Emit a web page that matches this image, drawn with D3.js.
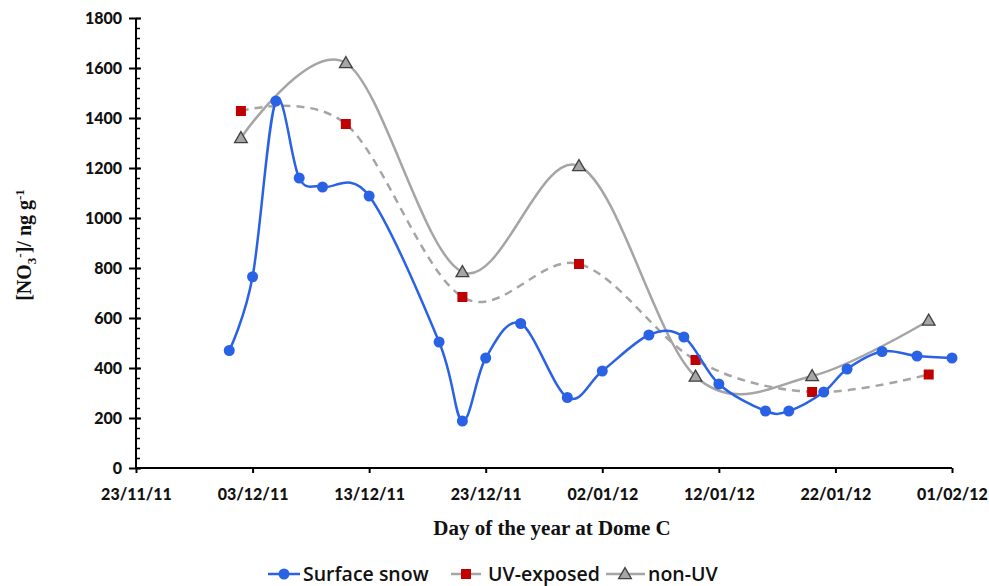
<!DOCTYPE html>
<html>
<head>
<meta charset="utf-8">
<script src="https://cdn.jsdelivr.net/npm/d3@7/dist/d3.min.js"></script>
<style>
  body { margin: 0; background: #fff; }
  svg { display: block; }
</style>
</head>
<body>
<svg id="chart" width="989" height="586"></svg>
<script>
// ---- Data ----
const surfaceDates = ["01/12/11","03/12/11","05/12/11","07/12/11","09/12/11","13/12/11","19/12/11","21/12/11","23/12/11","26/12/11","30/12/11","02/01/12","06/01/12","09/01/12","12/01/12","16/01/12","18/01/12","21/01/12","23/01/12","26/01/12","29/01/12","01/02/12"];
const surfaceValues = [470, 765, 1468, 1160, 1124, 1088, 504, 188, 440, 578, 282, 388, 532, 524, 336, 228, 228, 304, 396, 466, 448, 440];

const expDates = ["02/12/11","11/12/11","21/12/11","31/12/11","10/01/12","20/01/12","30/01/12"];
const uvValues = [1428, 1376, 684, 816, 432, 304, 374];
const nonUvValues = [1320, 1620, 784, 1208, 366, 368, 590];

const xTickLabels = ["23/11/11","03/12/11","13/12/11","23/12/11","02/01/12","12/01/12","22/01/12","01/02/12"];
const yTicks = [0, 200, 400, 600, 800, 1000, 1200, 1400, 1600, 1800];

const parse = d3.timeParse("%d/%m/%y");
const fmt = d3.timeFormat("%d/%m/%y");

// ---- Layout ----
const svg = d3.select("#chart");
const x0 = 136, x1 = 952, yTop = 18, yBot = 468;

const x = d3.scaleTime()
  .domain([parse("23/11/11"), parse("01/02/12")])
  .range([x0, x1]);
const y = d3.scaleLinear().domain([0, 1800]).range([yBot, yTop]);

const blue = "#2a62e6", red = "#c00000", gray = "#a5a5a5";
const tickFont = "Lato, 'Open Sans', sans-serif";

// ---- Axes ----
const yAxisMinor = d3.axisRight(y).tickValues(d3.range(0, 1801, 40)).tickSize(4).tickFormat("");
svg.append("g").attr("transform", `translate(${x0},0)`).call(yAxisMinor)
  .call(g => g.select(".domain").remove())
  .call(g => g.selectAll("line").attr("stroke", "#000").attr("stroke-width", 1.5));

const yAxis = d3.axisLeft(y).tickValues(yTicks).tickSize(7).tickPadding(7).tickFormat(d3.format("d"));
const gy = svg.append("g").attr("transform", `translate(${x0},0)`).call(yAxis);
gy.select(".domain").attr("stroke", "#000").attr("stroke-width", 2).attr("d", `M0,${yTop}V${yBot}`);
gy.selectAll(".tick line").attr("stroke", "#000").attr("stroke-width", 2).attr("x1", 5);
gy.selectAll(".tick text")
  .attr("font-family", tickFont)
  .attr("font-weight", "900").attr("font-size", 16).attr("fill", "#111");

const xAxis = d3.axisBottom(x).tickValues(xTickLabels.map(parse)).tickSize(5).tickPadding(16).tickFormat(fmt);
const gx = svg.append("g").attr("transform", `translate(0,${yBot})`).call(xAxis);
gx.select(".domain").attr("stroke", "#000").attr("stroke-width", 2).attr("d", `M${x0},0H${x1}`);
gx.selectAll(".tick line").attr("stroke", "#000").attr("stroke-width", 2);
gx.selectAll(".tick text")
  .attr("font-family", tickFont)
  .attr("font-weight", "900").attr("font-size", 16).attr("fill", "#111");

// axis titles
svg.append("text").attr("x", 552).attr("y", 535).attr("text-anchor", "middle")
  .attr("font-family", "'Liberation Serif', 'Times New Roman', serif")
  .attr("font-weight", "bold").attr("font-size", 21).attr("fill", "#111")
  .text("Day of the year at Dome C");

const yl = svg.append("text").attr("transform", "translate(31,245) rotate(-90)")
  .attr("text-anchor", "middle")
  .attr("font-family", "'Liberation Serif', 'Times New Roman', serif")
  .attr("font-weight", "bold").attr("font-size", 20).attr("fill", "#111");
yl.append("tspan").text("[NO");
yl.append("tspan").attr("font-size", 13).attr("dy", 5).text("3");
yl.append("tspan").attr("font-size", 13).attr("dy", -12).text("-");
yl.append("tspan").attr("dy", 7).text("]/ ng g");
yl.append("tspan").attr("font-size", 13).attr("dy", -7).text("-1");

// ---- Series ----
const curve = d3.curveCatmullRom.alpha(0);
const line = d3.line().x(d => x(d.date)).y(d => y(d.v)).curve(curve);

const surface = surfaceDates.map((d, i) => ({ date: parse(d), v: surfaceValues[i] }));
const uv = expDates.map((d, i) => ({ date: parse(d), v: uvValues[i] }));
const nonUv = expDates.map((d, i) => ({ date: parse(d), v: nonUvValues[i] }));

// non-UV
svg.append("path").datum(nonUv).attr("d", line).attr("fill", "none")
  .attr("stroke", gray).attr("stroke-width", 2.5);
const tri = d3.symbol().type(d3.symbolTriangle).size(70);
svg.selectAll(".tri").data(nonUv).join("path").attr("class", "tri")
  .attr("d", tri).attr("transform", d => `translate(${x(d.date)},${y(d.v) + 1})`)
  .attr("fill", "#a6a6a6").attr("stroke", "#404040").attr("stroke-width", 1.3);

// UV-exposed
svg.append("path").datum(uv).attr("d", line).attr("fill", "none")
  .attr("stroke", gray).attr("stroke-width", 2.5).attr("stroke-dasharray", "8,6");
svg.selectAll(".sq").data(uv).join("rect").attr("class", "sq")
  .attr("x", d => x(d.date) - 5).attr("y", d => y(d.v) - 5)
  .attr("width", 10).attr("height", 10).attr("fill", red);

// Surface snow
svg.append("path").datum(surface).attr("d", line).attr("fill", "none")
  .attr("stroke", blue).attr("stroke-width", 2.5);
svg.selectAll(".dot").data(surface).join("circle").attr("class", "dot")
  .attr("cx", d => x(d.date)).attr("cy", d => y(d.v)).attr("r", 5.5).attr("fill", blue);

// ---- Legend ----
const legY = 574;
const lg = svg.append("g").attr("font-family", "'Open Sans', Lato, sans-serif")
  .attr("font-size", 19.5).attr("font-weight", 600).attr("fill", "#111");
lg.append("line").attr("x1", 268).attr("x2", 300).attr("y1", legY).attr("y2", legY).attr("stroke", blue).attr("stroke-width", 2.5);
lg.append("circle").attr("cx", 284).attr("cy", legY).attr("r", 5.5).attr("fill", blue);
lg.append("text").attr("x", 303).attr("y", legY + 7).text("Surface snow");

lg.append("line").attr("x1", 451).attr("x2", 481).attr("y1", legY).attr("y2", legY).attr("stroke", gray).attr("stroke-width", 2.5);
lg.append("rect").attr("x", 461).attr("y", legY - 5).attr("width", 10).attr("height", 10).attr("fill", red);
lg.append("text").attr("x", 488).attr("y", legY + 7).text("UV-exposed");

lg.append("line").attr("x1", 606).attr("x2", 645).attr("y1", legY).attr("y2", legY).attr("stroke", gray).attr("stroke-width", 2.5);
lg.append("path").attr("d", tri).attr("transform", `translate(625,${legY + 1})`)
  .attr("fill", "#a6a6a6").attr("stroke", "#404040").attr("stroke-width", 1.3);
lg.append("text").attr("x", 648).attr("y", legY + 7).text("non-UV");
</script>
</body>
</html>
